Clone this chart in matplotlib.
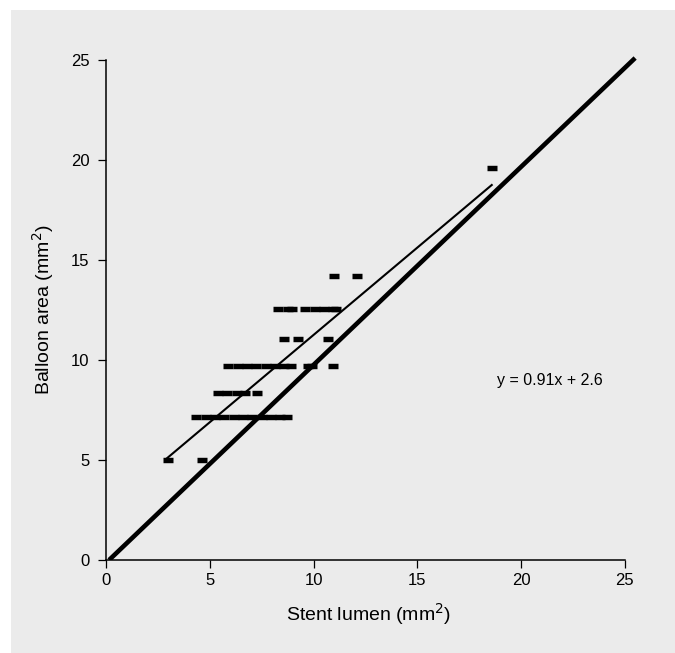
import matplotlib
matplotlib.use("Agg")
import matplotlib.pyplot as plt
from matplotlib.patches import Rectangle

plt.rcParams['font.family'] = ['Liberation Sans', 'DejaVu Sans']

# Data
row_5 = [3.0, 4.65]
row_7 = [4.35, 4.8, 5.25, 5.7, 6.15, 6.6, 7.05, 7.5, 7.95, 8.4, 8.73]
row_8 = [5.42, 5.85, 6.3, 6.68, 7.28]
row_9 = [5.9, 6.35, 6.8, 7.25, 7.7, 8.15, 8.6, 8.93, 9.75, 9.95, 10.94]
row_11 = [8.56, 9.23, 10.71]
row_12 = [8.3, 8.75, 8.95, 9.6, 10.05, 10.5, 10.95, 11.1]
row_14 = [10.99, 12.1]
row_19 = [18.59]
row_levels = [5.0, 7.15, 8.37, 9.7, 11.05, 12.53, 14.2, 19.6]
rows = [row_5, row_7, row_8, row_9, row_11, row_12, row_14, row_19]

stent_lumen = [x for r in rows for x in r]
balloon_area = [lvl for r, lvl in zip(rows, row_levels) for _ in r]

identity_x = [0.15, 25.5]
identity_y = [0.0, 25.1]
fit_x = [2.93, 18.59]
fit_y = [5.08, 18.75]
equation = "y = 0.91x + 2.6"

x_ticks = [0, 5, 10, 15, 20, 25]
y_ticks = [0, 5, 10, 15, 20, 25]

fig = plt.figure(figsize=(6.75, 6.53), dpi=100, facecolor='white')
bg = Rectangle((11 / 675, 0), 1 - 11 / 675, (653 - 10) / 653,
               transform=fig.transFigure, facecolor='#ebebeb', edgecolor='none', zorder=-10)
fig.patches.append(bg)

ax = fig.add_axes([106 / 675, 93 / 653, (645.5 - 106) / 675, (560 - 50) / 653])
ax.set_facecolor('none')
ax.set_zorder(5)

ax.plot(identity_x, identity_y, color='black', lw=3.3, solid_capstyle='butt', zorder=3)
ax.plot(fit_x, fit_y, color='black', lw=1.5, zorder=3)
ax.plot(stent_lumen, balloon_area, linestyle='none', marker='_', ms=7.8, mew=3.9,
        color='black', zorder=4)

ax.text(18.85, 9.0, equation, fontsize=11.5, va='center', ha='left')

ax.set_xlim(0, 26)
ax.set_ylim(0, 25.5)
ax.set_xticks(x_ticks)
ax.set_yticks(y_ticks)
for s in ['top', 'right']:
    ax.spines[s].set_visible(False)
ax.spines['left'].set_bounds(0, 25)
ax.spines['bottom'].set_bounds(0, 25)
for s in ['left', 'bottom']:
    ax.spines[s].set_linewidth(1.1)
ax.tick_params(axis='x', direction='out', length=5.5, width=0.9, labelsize=12, pad=4)
ax.tick_params(axis='y', direction='out', length=6, width=0.9, labelsize=12, pad=6)

ax.set_xlabel('Stent lumen (mm$^2$)', fontsize=14)
ax.set_ylabel('Balloon area (mm$^2$)', fontsize=14)
ax.xaxis.set_label_coords(0.486, -0.080)
ax.yaxis.set_label_coords(-0.0927, 0.49)

fig.savefig('out.png', dpi=100, facecolor='white')
